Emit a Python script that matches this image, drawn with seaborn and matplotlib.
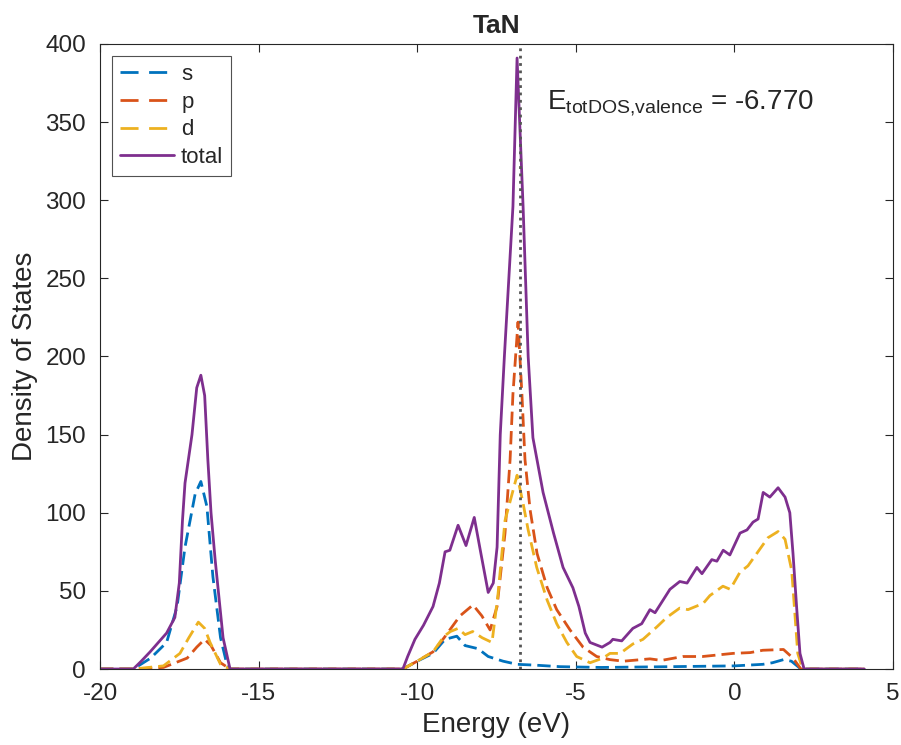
import matplotlib
matplotlib.use("Agg")
import matplotlib.pyplot as plt
import seaborn as sns
import pandas as pd

# energies (eV) and DOS values
e_s = [-20, -18.95, -18.4, -17.9, -17.57, -17.32, -17.0, -16.82, -16.63, -16.44, -16.2, -16.0, -15.9,
       -10.45, -10.0, -9.5, -9.12, -8.75, -8.49, -8.08, -7.76, -7.29, -6.85, -6.3, -5.5, -4.2,
       -2.0, 0.0, 0.9, 1.2, 1.55, 1.8, 2.1, 4.1]
s_dos = [0, 0, 7, 17, 40, 78, 112, 120, 104, 59, 20, 3, 0,
         0, 5, 10, 19, 21, 15, 13, 8, 5, 3, 2.5, 1.5, 1,
         1.5, 2, 3, 4, 6, 5, 0, 0]

e_p = [-20, -18.95, -18.0, -17.25, -16.95, -16.7, -16.5, -16.2, -15.9,
       -10.45, -10.0, -9.5, -9.15, -8.9, -8.65, -8.24, -7.96, -7.7, -7.48, -7.23, -7.07, -6.98,
       -6.82, -6.7, -6.6, -6.44, -6.22, -5.9, -5.6, -5.18, -4.77, -4.34, -3.92, -3.5, -2.66,
       -2.3, -1.62, -1.0, -0.04, 0.5, 0.9, 1.55, 1.85, 2.1, 4.1]
p_dos = [0, 0, 1, 7, 14, 19, 15, 4, 0,
         0, 5, 11, 20, 27, 34, 41, 34, 25, 40, 87, 134, 176,
         222, 177, 134, 102, 74, 52, 38, 25, 14, 8, 6, 5, 6.5,
         5.5, 8, 8, 10, 10.5, 12, 12.5, 7, 0, 0]

e_d = [-20, -18.95, -18.0, -17.48, -17.2, -16.9, -16.7, -16.53, -16.2, -15.9,
       -10.45, -10.0, -9.5, -9.15, -8.95, -8.71, -8.49, -8.25, -7.95, -7.64, -7.45, -7.23,
       -6.85, -6.66, -6.5, -6.23, -5.9, -5.6, -5.28, -4.97, -4.55, -4.14, -3.92, -3.6,
       -3.2, -2.88, -2.44, -2.13, -1.72, -1.46, -0.98, -0.77, -0.36, -0.13, 0.18, 0.43,
       0.71, 1.06, 1.38, 1.6, 1.81, 1.9, 2.0, 2.15, 4.1]
d_dos = [0, 0, 2, 10, 20, 30, 26, 17, 3, 0,
         0, 5, 11, 21, 24, 26, 22, 24, 20, 17, 48, 95,
         124, 106, 89, 65, 44, 29, 17, 8, 4, 7, 10, 10,
         16, 19, 27, 33, 39, 38, 42, 47, 53, 51, 62, 66,
         74, 84, 88, 83, 63, 38, 10, 0, 0]

e_tot = [-20, -18.95, -18.7, -18.42, -17.9, -17.64, -17.5, -17.4, -17.32, -17.1, -16.95, -16.82,
         -16.7, -16.6, -16.5, -16.37, -16.12, -15.9,
         -10.45, -10.3, -10.07, -9.8, -9.5, -9.3, -9.12, -8.97, -8.71, -8.46, -8.2, -8.0, -7.76,
         -7.6, -7.48, -7.38, -7.25, -6.98, -6.85, -6.66, -6.5, -6.35, -6.03, -5.7, -5.4, -5.09,
         -4.9, -4.7, -4.55, -4.17, -3.92, -3.83, -3.55, -3.2, -2.92, -2.66, -2.5, -2.03, -1.72,
         -1.49, -1.18, -1.02, -0.71, -0.55, -0.35, -0.14, 0.18, 0.4, 0.59, 0.75, 0.91, 1.12,
         1.38, 1.6, 1.75, 1.85, 1.97, 2.07, 2.2, 4.1]
tot_dos = [0, 0, 5, 11, 23, 33, 55, 95, 119, 150, 180, 188,
           175, 134, 100, 70, 20, 0,
           0, 8, 19, 28, 40, 55, 75, 76, 92, 79, 97, 75, 49,
           55, 78, 150, 200, 296, 391, 296, 200, 148, 113, 87, 65, 52,
           40, 23, 17, 14, 17, 19, 18, 26, 29, 38, 36, 51, 56,
           55, 65, 61, 70, 69, 76, 73, 87, 89, 94, 96, 113, 110,
           116, 110, 100, 74, 38, 10, 0, 0]

e_valence = -6.770

sns.set_style("ticks")
plt.rcParams['font.family'] = ['Liberation Sans', 'DejaVu Sans']
plt.rcParams['mathtext.fontset'] = 'custom'
plt.rcParams['mathtext.rm'] = 'Liberation Sans'
plt.rcParams['mathtext.it'] = 'Liberation Sans'
plt.rcParams['axes.unicode_minus'] = False

fig = plt.figure(figsize=(9.01, 7.45), dpi=100)
ax = fig.add_axes([0.111, 0.102, 0.88, 0.839])

sns.lineplot(x=e_s, y=s_dos, ax=ax, color='#0072BD', lw=2,
             label='s', estimator=None, sort=False)
sns.lineplot(x=e_p, y=p_dos, ax=ax, color='#D95319', lw=2,
             label='p', estimator=None, sort=False)
sns.lineplot(x=e_d, y=d_dos, ax=ax, color='#EDB120', lw=2,
             label='d', estimator=None, sort=False)
sns.lineplot(x=e_tot, y=tot_dos, ax=ax, color='#7E2F8E', lw=2,
             label='total', estimator=None, sort=False)
# dashed partial DOS lines
for ln in ax.lines[:3]:
    ln.set_dashes((4.8, 2.2))

ax.axvline(e_valence, color='#555555', lw=2, linestyle=':')
ax.text(-5.9, 362, r'$\mathrm{E_{totDOS{,}valence}}$ = %.3f' % e_valence,
        fontsize=20, va='center', ha='left')

ax.set_xlim(-20, 5)
ax.set_ylim(0, 400)
ax.set_xticks(range(-20, 6, 5))
ax.set_yticks(range(0, 401, 50))
ax.tick_params(direction='in', top=True, right=True, length=6, labelsize=17.5,
               colors='#262626', width=0.8)
ax.tick_params(axis='x', pad=10)
ax.tick_params(axis='y', pad=10)
for sp in ax.spines.values():
    sp.set_color('#262626')
    sp.set_linewidth(0.8)

ax.set_xlabel('Energy (eV)', fontsize=20, color='#262626', labelpad=5)
ax.set_ylabel('Density of States', fontsize=20, color='#262626', labelpad=5)
ax.set_title('TaN', fontsize=19, fontweight='bold', pad=8)

leg = ax.legend(loc='upper left', fontsize=16, frameon=True, fancybox=False,
                edgecolor='#262626', handlelength=2.45, handletextpad=0.3,
                labelspacing=0.3, borderpad=0.35, borderaxespad=0.55)
leg.get_frame().set_linewidth(0.8)
for h in leg.get_lines()[:3]:
    h.set_dashes((6.5, 3.8))

fig.savefig('out.png', dpi=100)
